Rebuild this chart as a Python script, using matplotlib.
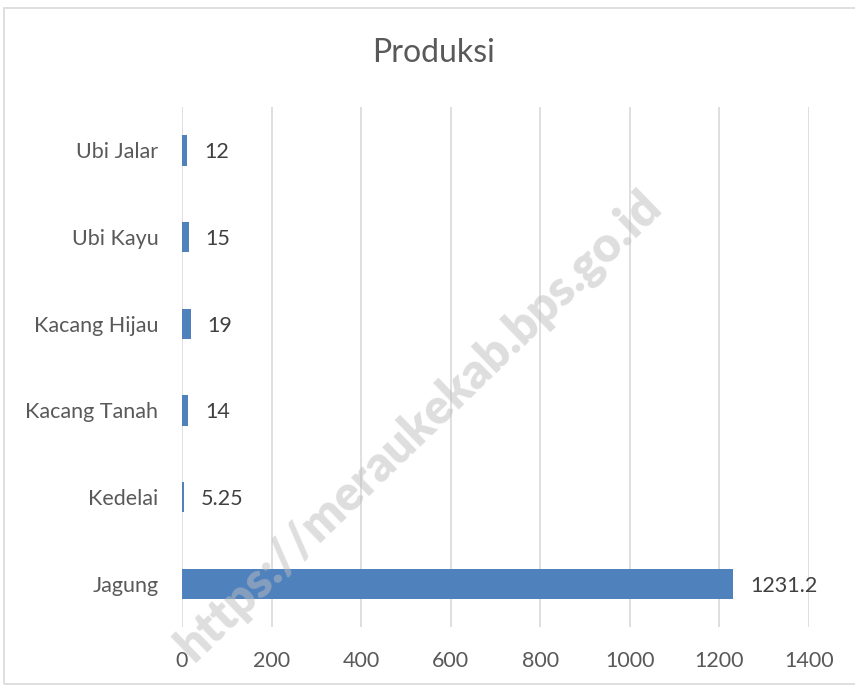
import matplotlib.pyplot as plt
from matplotlib.patches import Rectangle

# data
categories = ["Jagung", "Kedelai", "Kacang Tanah", "Kacang Hijau", "Ubi Kayu", "Ubi Jalar"]
values = [1231.2, 5.25, 14, 19, 15, 12]
value_labels = ["1231.2", "5.25", "14", "19", "15", "12"]
xticks = [0, 200, 400, 600, 800, 1000, 1200, 1400]

plt.rcParams['font.family'] = ['Lato', 'DejaVu Sans']

fig = plt.figure(figsize=(8.55, 6.86), dpi=100)
ax = fig.add_axes([0.2129, 0.086, 0.7333, 0.758])

ypos = range(len(categories))
ax.barh(ypos, values, height=0.35, color='#4f81bd', zorder=3)
for y, v, lab in zip(ypos, values, value_labels):
    ax.annotate(lab, (v, y), xytext=(12, -1.5), textcoords='offset points',
                va='center', ha='left', fontsize=15.5, color='#404040', zorder=4)

ax.set_xlim(0, 1400)
ax.set_ylim(-0.5, len(categories) - 0.5)
ax.set_xticks(xticks)
ax.set_xticklabels([str(t) for t in xticks])
ax.set_yticks(list(ypos))
ax.set_yticklabels(categories)
ax.tick_params(axis='both', length=0, labelsize=15.5, labelcolor='#595959')
ax.tick_params(axis='x', pad=17)
ax.tick_params(axis='y', pad=17)
ax.grid(axis='x', color='#d9d9d9', linewidth=1.2, zorder=0)
for s in ax.spines.values():
    s.set_visible(False)

fig.text(0.507, 0.923, "Produksi", ha='center', va='center', fontsize=23, color='#595959')

# outer chart border
fig.patches.append(Rectangle((4 / 855, 2 / 686), 1.2, 676 / 686, transform=fig.transFigure,
                             fill=False, edgecolor='#d9d9d9', linewidth=1.2))

# watermark
fig.text(0.49, 0.38, "https://meraukekab.bps.go.id", rotation=44, ha='center', va='center',
         fontsize=35, fontweight='heavy', color='#bdbdbd', alpha=0.5, zorder=10)

fig.savefig('out.png', dpi=100)
